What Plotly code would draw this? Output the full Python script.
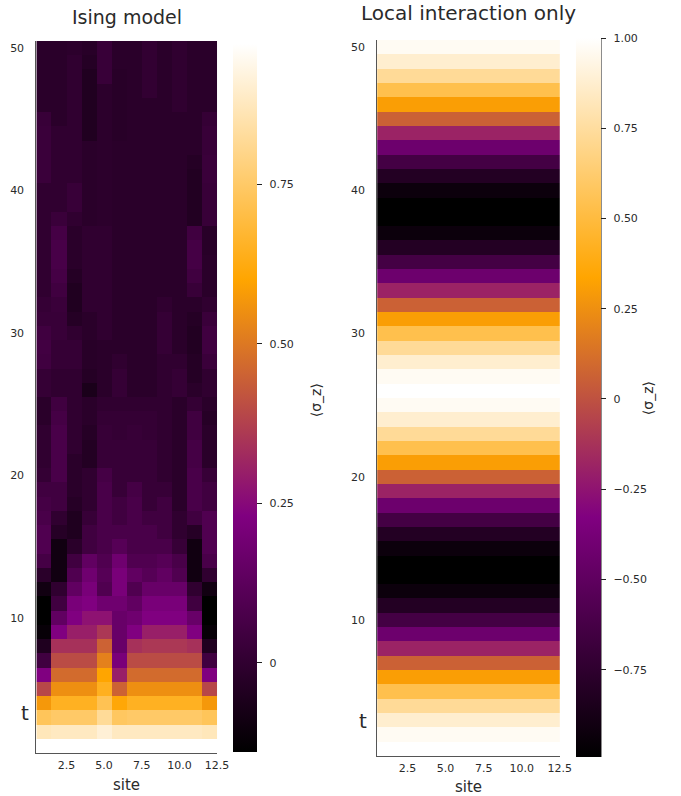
import plotly.graph_objects as go

W, H = 669, 796  # the page renders the figure at this effective width

sites = list(range(1, 13))
times = list(range(1, 51))

# Ising model <sigma_z>(t, site); rows t = 1..50, columns site = 1..12
ising_rows = [
    [0.97, 0.97, 0.97, 0.97, 0.97, 0.97, 0.97, 0.97, 0.97, 0.97, 0.97, 0.97],
    [0.87, 0.88, 0.88, 0.88, 0.91, 0.88, 0.88, 0.88, 0.88, 0.88, 0.88, 0.87],
    [0.73, 0.75, 0.75, 0.75, 0.82, 0.74, 0.75, 0.75, 0.75, 0.75, 0.75, 0.73],
    [0.57, 0.65, 0.65, 0.65, 0.72, 0.61, 0.65, 0.65, 0.65, 0.65, 0.65, 0.57],
    [0.39, 0.55, 0.55, 0.55, 0.645, 0.45, 0.55, 0.55, 0.55, 0.55, 0.55, 0.39],
    [0.23, 0.47, 0.47, 0.47, 0.60, 0.30, 0.47, 0.47, 0.47, 0.47, 0.47, 0.23],
    [0.045, 0.40, 0.40, 0.40, 0.52, 0.21, 0.40, 0.40, 0.40, 0.40, 0.40, 0.045],
    [-0.05, 0.34, 0.34, 0.34, 0.45, 0.16, 0.34, 0.355, 0.355, 0.355, 0.34, -0.05],
    [-0.12, 0.23, 0.30, 0.30, 0.355, 0.16, 0.23, 0.30, 0.30, 0.30, 0.23, -0.12],
    [-0.14, 0.14, 0.23, 0.27, 0.27, 0.16, 0.18, 0.23, 0.23, 0.23, 0.16, -0.14],
    [-0.14, 0.045, 0.21, 0.23, 0.18, 0.18, 0.14, 0.21, 0.21, 0.21, 0.045, -0.14],
    [-0.09, 0.0, 0.14, 0.21, 0.09, 0.21, 0.09, 0.16, 0.16, 0.16, 0.0, -0.09],
    [-0.02, -0.09, 0.09, 0.18, 0.11, 0.21, 0.14, 0.11, 0.14, 0.09, -0.09, 0.0],
    [0.06, -0.09, 0.045, 0.14, 0.09, 0.18, 0.09, 0.09, 0.11, 0.07, -0.09, 0.07],
    [0.09, -0.09, -0.02, 0.045, 0.07, 0.11, 0.07, 0.07, 0.07, 0.02, -0.09, 0.09],
    [0.09, -0.03, -0.05, 0.045, 0.07, 0.07, 0.07, 0.07, 0.045, 0.0, -0.03, 0.09],
    [0.07, 0.0, -0.05, 0.02, 0.07, 0.045, 0.07, 0.045, 0.045, 0.0, 0.045, 0.09],
    [0.06, 0.045, -0.03, 0.0, 0.07, 0.045, 0.07, 0.02, 0.045, -0.02, 0.07, 0.045],
    [0.045, 0.045, -0.02, 0.0, 0.07, 0.02, 0.06, 0.02, 0.02, -0.02, 0.07, 0.045],
    [0.01, 0.07, -0.02, 0.0, 0.06, 0.02, 0.02, 0.02, 0.0, -0.02, 0.07, 0.02],
    [0.0, 0.07, -0.02, -0.04, 0.02, 0.02, 0.02, 0.02, 0.0, -0.02, 0.06, -0.02],
    [0.0, 0.07, 0.0, -0.04, 0.02, 0.02, 0.02, 0.02, 0.0, -0.02, 0.06, -0.02],
    [0.0, 0.07, 0.0, -0.03, 0.02, 0.01, 0.02, 0.01, 0.0, -0.02, 0.045, -0.02],
    [-0.02, 0.06, 0.0, -0.02, 0.01, 0.01, 0.01, 0.01, 0.0, -0.02, 0.045, -0.03],
    [-0.02, 0.045, 0.0, -0.02, 0.0, 0.0, 0.0, 0.0, 0.0, -0.02, 0.01, -0.02],
    [0.013, 0.0, 0.0, -0.065, -0.019, 0.013, -0.019, -0.019, 0.0, 0.013, -0.019, 0.0],
    [0.013, 0.0, 0.0, -0.033, -0.019, 0.013, -0.019, -0.019, 0.0, 0.013, -0.033, 0.0],
    [0.045, 0.013, 0.013, -0.024, -0.019, 0.0, -0.019, -0.019, 0.0, 0.0, -0.033, 0.028],
    [0.051, 0.013, 0.013, -0.024, -0.019, -0.019, -0.019, -0.019, 0.013, -0.019, -0.042, 0.045],
    [0.045, 0.022, 0.0, -0.019, 0.0, -0.019, -0.019, -0.019, 0.013, -0.019, -0.042, 0.045],
    [0.022, 0.022, -0.033, -0.019, 0.0, -0.019, -0.019, -0.019, 0.013, -0.019, -0.033, 0.028],
    [0.013, 0.028, -0.048, 0.0, 0.0, -0.019, -0.019, -0.019, 0.0, -0.019, -0.019, 0.0],
    [0.0, 0.045, -0.048, 0.0, 0.0, -0.019, -0.019, -0.019, -0.019, -0.019, 0.022, -0.019],
    [0.0, 0.059, -0.033, 0.0, 0.0, -0.019, -0.019, -0.019, -0.019, -0.019, 0.045, -0.019],
    [0.0, 0.068, -0.019, 0.0, 0.0, -0.019, -0.019, -0.019, -0.019, -0.019, 0.059, -0.019],
    [0.0, 0.068, -0.019, 0.0, 0.0, -0.019, -0.019, -0.019, -0.019, -0.019, 0.059, -0.024],
    [0.0, 0.059, -0.019, 0.0, 0.0, -0.019, -0.019, -0.019, -0.019, -0.019, 0.045, -0.024],
    [0.0, 0.028, 0.0, -0.019, -0.013, -0.019, -0.019, -0.019, -0.019, -0.019, -0.042, 0.022],
    [0.0, 0.0, 0.022, -0.019, -0.013, -0.019, -0.019, -0.019, -0.019, -0.019, -0.042, 0.022],
    [0.0, 0.0, 0.022, -0.019, -0.013, -0.019, -0.019, -0.019, -0.019, -0.019, -0.042, 0.022],
    [0.028, 0.0, 0.0, -0.019, -0.013, -0.019, -0.019, -0.019, -0.019, -0.019, -0.042, 0.028],
    [0.028, 0.0, 0.0, -0.019, -0.013, -0.019, -0.019, -0.019, -0.019, -0.019, -0.033, 0.028],
    [0.028, 0.0, 0.0, -0.019, -0.013, -0.019, -0.019, -0.019, -0.019, -0.019, -0.019, 0.022],
    [0.028, 0.0, 0.0, -0.048, -0.013, -0.024, -0.019, -0.019, -0.019, -0.019, -0.019, 0.022],
    [0.022, -0.019, 0.0, -0.048, -0.013, -0.024, -0.019, -0.019, -0.019, -0.019, -0.019, 0.013],
    [-0.019, -0.019, 0.0, -0.048, -0.013, -0.024, -0.019, -0.019, -0.019, 0.0, -0.019, -0.019],
    [-0.019, -0.019, 0.0, -0.048, -0.013, -0.024, -0.019, 0.005, -0.019, 0.0, -0.019, -0.019],
    [-0.019, -0.019, 0.0, -0.048, 0.022, -0.024, -0.019, 0.005, -0.019, 0.0, -0.019, -0.019],
    [-0.019, -0.019, 0.0, -0.033, 0.022, -0.019, -0.019, 0.005, -0.019, 0.0, -0.019, -0.019],
    [-0.019, -0.019, -0.013, -0.024, 0.022, -0.019, -0.019, 0.005, -0.019, 0.0, -0.019, -0.019],
]

# Local interaction only: <sigma_z>(t), identical at every site
local_values = [
    1.0, 0.969, 0.876, 0.729, 0.536, 0.309, 0.063, -0.187, -0.426, -0.637,
    -0.809, -0.930, -0.992, -0.992, -0.930, -0.809, -0.637, -0.426, -0.187, 0.063,
    0.309, 0.536, 0.729, 0.876, 0.969, 1.0, 0.969, 0.876, 0.729, 0.536,
    0.309, 0.063, -0.187, -0.426, -0.637, -0.809, -0.930, -0.992, -0.992, -0.930,
    -0.809, -0.637, -0.426, -0.187, 0.063, 0.309, 0.536, 0.729, 0.876, 0.969,
]
local_rows = [[v] * len(sites) for v in local_values]

x_tickvals = [2.5, 5.0, 7.5, 10.0, 12.5]
x_ticktext = ["2.5", "5.0", "7.5", "10.0", "12.5"]
y_tickvals = [10, 20, 30, 40, 50]
cb1_vals = [0, 0.25, 0.5, 0.75]
cb1_text = ["0", "0.25", "0.50", "0.75"]
cb2_vals = [1.0, 0.75, 0.5, 0.25, 0, -0.25, -0.5, -0.75]
cb2_text = ["1.00", "0.75", "0.50", "0.25", "0", "\u22120.25", "\u22120.50", "\u22120.75"]

FONT = "DejaVu Sans"
TXT = "#2a2a2a"
AX = "#555555"
PAD = "\u00a0\u2009"

cscale = [[0.0, "rgb(0,0,0)"], [1/3, "rgb(128,0,128)"],
          [2/3, "rgb(255,165,0)"], [1.0, "rgb(255,255,255)"]]

def px(x):
    return x / W

def py(y):
    return 1 - y / H

def cbar(x0, thick, top, bot, vals, text):
    return dict(
        x=px(x0), xanchor="left", xpad=0, ypad=0,
        y=(py(top) + py(bot)) / 2, yanchor="middle",
        len=(bot - top) / H, lenmode="fraction",
        thickness=thick, thicknessmode="pixels",
        outlinewidth=0, ticks="outside", ticklen=5, tickcolor="#222",
        tickvals=vals, ticktext=[PAD + t for t in text],
        tickfont=dict(family=FONT, size=11, color=TXT),
    )

z1 = ising_rows
z2 = local_rows
fig = go.Figure()
fig.add_trace(go.Heatmap(
    x=sites, y=times, z=z1, colorscale=cscale,
    zmin=min(min(r) for r in z1), zmax=max(max(r) for r in z1),
    xaxis="x", yaxis="y",
    colorbar=cbar(237, 24, 44, 752, cb1_vals, cb1_text),
))
fig.add_trace(go.Heatmap(
    x=sites, y=times, z=z2, colorscale=cscale,
    zmin=min(local_values), zmax=max(local_values),
    xaxis="x2", yaxis="y2",
    colorbar=cbar(587, 25, 38, 757, cb2_vals, cb2_text),
))

def xax(d0, d1, anchor):
    return dict(domain=[px(d0), px(d1)], range=[0.5, 12.5], anchor=anchor,
                tickvals=x_tickvals, ticktext=x_ticktext, showgrid=False,
                zeroline=False, showline=True, linecolor=AX, linewidth=1,
                ticks="inside", ticklen=4, tickcolor=AX, layer="below traces",
                tickfont=dict(family=FONT, size=11, color=TXT),
                ticklabelstandoff=2)

def yax(top, bot, anchor):
    return dict(domain=[py(bot), py(top)], range=[0.5, 50.5], anchor=anchor,
                tickvals=y_tickvals, showgrid=False, zeroline=False,
                showline=True, linecolor=AX, linewidth=1, ticks="",
                tickfont=dict(family=FONT, size=11, color=TXT),
                ticklabelstandoff=9)

fig.update_layout(
    width=W, height=H, margin=dict(l=0, r=0, t=0, b=0),
    paper_bgcolor="white", plot_bgcolor="white", showlegend=False,
    xaxis=xax(37, 221, "y"), yaxis=yax(41, 753, "x"),
    xaxis2=xax(384, 570, "y2"), yaxis2=yax(40, 756, "x2"),
)

shapes = [
    dict(type="line", xref="paper", yref="paper", x0=px(261), x1=px(261),
         y0=py(752), y1=py(44), line=dict(color="#222", width=1)),
    dict(type="line", xref="paper", yref="paper", x0=px(612), x1=px(612),
         y0=py(757), y1=py(38), line=dict(color="#222", width=1)),
]
fig.update_layout(shapes=shapes)

def ann(text, x, y, size, angle=0):
    return dict(text=text, x=px(x), y=py(y), xref="paper", yref="paper",
                showarrow=False, xanchor="center", yanchor="middle",
                textangle=angle, font=dict(family=FONT, size=size, color=TXT))

fig.update_layout(annotations=[
    ann("Ising model", 129, 17, 19),
    ann("Local interaction only", 477, 13, 20),
    ann("site", 129, 785, 15),
    ann("site", 477, 787, 15),
    ann("t", 25, 713, 20),
    ann("t", 370, 721, 20),
    ann("\u27e8\u03c3_z\u27e9", 322, 400, 14, -90),
    ann("\u27e8\u03c3_z\u27e9", 660, 398, 14, -90),
])

fig.write_html("out.html")
